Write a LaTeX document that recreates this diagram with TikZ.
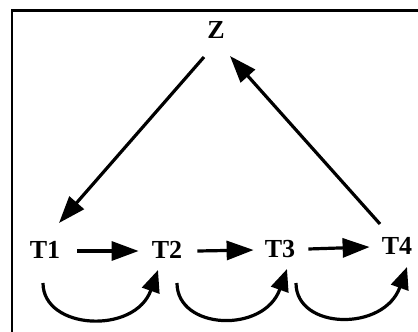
\documentclass[tikz,border=0pt]{standalone}
\usepackage{fontspec}
\setmainfont{Liberation Serif}
\usetikzlibrary{arrows.meta,calc}
\tikzset{
  lbl/.style={inner sep=1bp, font=\bfseries\fontsize{26bp}{30bp}\selectfont},
  arr/.style={line width=3.2bp, -{Triangle[length=27bp,width=19bp]}},
  carr/.style={line width=3.2bp, -{Triangle[length=22bp,width=18bp]}},
  frame/.style={line width=2.8bp}
}
\begin{document}
\begin{tikzpicture}[x=1bp,y=-1bp]
\useasboundingbox (0,0) rectangle (418,332);
\draw[frame] (418,10.5) -| (12,332);
\node[lbl] (Z) at (216,30) {Z};
\node[lbl] (T1) at (45,250) {T1};
\node[lbl] (T2) at (167,250) {T2};
\node[lbl] (T3) at (280,249) {T3};
\node[lbl] (T4) at (397,246) {T4};
% diagonals
\draw[arr] ($(Z)+(-12,27)$) -- ($(T1)+(14,-27)$);
\draw[arr] ($(T4)+(-17,-22)$) -- ($(Z)+(14,26)$);
% horizontals
\draw[arr] ($(T1.east)+(16,1)$) -- ($(T2.west)+(-12,1)$);
\draw[arr] ($(T2.east)+(14,1)$) -- ($(T3.west)+(-10,1)$);
\draw[arr] ($(T3.east)+(12,0)$) -- ($(T4.west)+(-11,1)$);
% curved
\draw[carr] ($(T1)+(-2,33)$) .. controls +(0,47) and +(-23,65) .. ($(T2)+(-9,20)$);
\draw[carr] ($(T2)+(10,33)$) .. controls +(0,47) and +(-23,65) .. ($(T3)+(7,20)$);
\draw[carr] ($(T3)+(16,34)$) .. controls +(0,47) and +(-23,65) .. ($(T4)+(10,21)$);
\end{tikzpicture}
\end{document}
